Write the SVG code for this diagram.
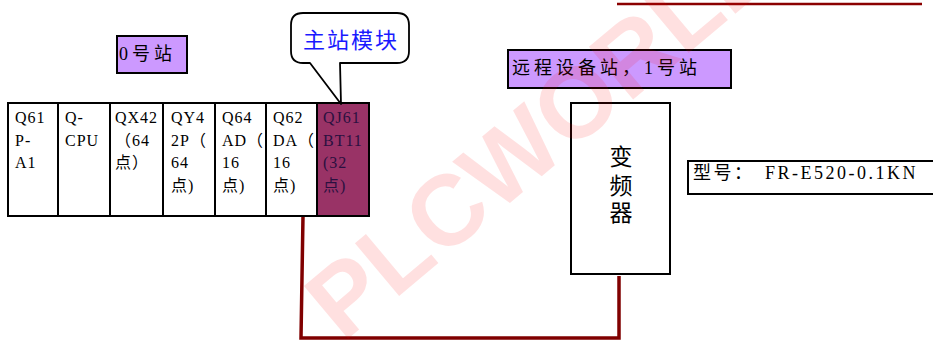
<svg xmlns="http://www.w3.org/2000/svg" width="933" height="340" viewBox="0 0 933 340">
<style>
.mod{fill:#ffffff;stroke:#000;stroke-width:2}
.mt{font-family:"Liberation Serif","Noto Sans CJK SC",serif;font-size:16px;letter-spacing:1px;fill:#000}
.lbl{fill:#cc99ff;stroke:#000;stroke-width:2}
.cjk{font-family:"Liberation Serif","Noto Sans CJK SC",serif;fill:#000}
.wire{fill:none;stroke:#800000;stroke-width:3.5}
</style>
<rect width="933" height="340" fill="#ffffff"/>
<g id="top-line"><path d="M617 4 L922 4" stroke="#8b0000" stroke-width="2.5"/></g>
<g id="connectors">
<path class="wire" d="M303 216 L301 338 L619 338 L619 276"/>
</g>
<g id="module-rack">
<g id="m1"><rect class="mod" x="8" y="103" width="50" height="113"/>
<text class="mt"><tspan x="15" y="123">Q61</tspan><tspan x="15" y="145.5">P-</tspan><tspan x="15" y="168">A1</tspan></text></g>
<g id="m2"><rect class="mod" x="58" y="103" width="52" height="113"/>
<text class="mt"><tspan x="65" y="123">Q-</tspan><tspan x="65" y="145.5">CPU</tspan></text></g>
<g id="m3"><rect class="mod" x="110" y="103" width="53" height="113"/>
<text class="mt"><tspan x="115" y="123">QX42</tspan><tspan x="115" y="145.5">（64</tspan><tspan x="115" y="168">点）</tspan></text></g>
<g id="m4"><rect class="mod" x="163" y="103" width="52" height="113"/>
<text class="mt"><tspan x="171" y="123">QY4</tspan><tspan x="171" y="145.5">2P（</tspan><tspan x="171" y="168">64</tspan><tspan x="171" y="190.5">点)</tspan></text></g>
<g id="m5"><rect class="mod" x="215" y="103" width="51" height="113"/>
<text class="mt"><tspan x="222" y="123">Q64</tspan><tspan x="222" y="145.5">AD（</tspan><tspan x="222" y="168">16</tspan><tspan x="222" y="190.5">点)</tspan></text></g>
<g id="m6"><rect class="mod" x="266" y="103" width="51" height="113"/>
<text class="mt"><tspan x="273" y="123">Q62</tspan><tspan x="273" y="145.5">DA（</tspan><tspan x="273" y="168">16</tspan><tspan x="273" y="190.5">点)</tspan></text></g>
<g id="m7"><rect x="317" y="103" width="52" height="113" fill="#993366" stroke="#000" stroke-width="2"/>
<text class="mt" style="fill:#2b1040"><tspan x="323" y="123">QJ61</tspan><tspan x="323" y="145.5">BT11</tspan><tspan x="323" y="168">(32</tspan><tspan x="323" y="190.5">点)</tspan></text></g>
</g>
<g id="callout">
<path d="M310 63 L341 104 L340 63 L397 63 Q409 63 409 51 L409 25 Q409 13 397 13 L303 13 Q291 13 291 25 L291 51 Q291 63 303 63 Z" fill="#ffffff" stroke="#000" stroke-width="1.8" stroke-linejoin="round"/>
<text class="cjk" x="303" y="48" style="font-size:22px;letter-spacing:2px;fill:#1a1aff">主站模块</text>
</g>
<g id="station0">
<rect class="lbl" x="117" y="36" width="70" height="37"/>
<text class="cjk" x="119" y="60" style="font-size:18px;letter-spacing:4px">0号站</text>
</g>
<g id="station1">
<rect class="lbl" x="508" y="50" width="223" height="38"/>
<text class="cjk" x="512" y="74" style="font-size:18px;letter-spacing:4px">远程设备站，1号站</text>
</g>
<g id="inverter">
<rect x="571" y="103" width="99" height="171" fill="#ffffff" stroke="#000" stroke-width="2"/>
<text class="cjk" text-anchor="middle" style="font-size:23px"><tspan x="621" y="165">变</tspan><tspan x="621" y="194">频</tspan><tspan x="621" y="221">器</tspan></text>
</g>
<g id="model">
<rect x="688" y="161" width="260" height="33" fill="#ffffff" stroke="#000" stroke-width="2"/>
<text class="cjk" y="179" style="font-size:18px;letter-spacing:2.5px"><tspan x="693">型号：</tspan><tspan x="765">FR-E520-0.1KN</tspan></text>
</g>
<g id="watermark">
<text x="343" y="343" transform="rotate(-40 343 343)" style="font-family:'Liberation Sans',Arial,sans-serif;font-weight:bold;font-size:100px;fill:#ff0000;fill-opacity:0.12">PLCWORLD</text>
</g>
</svg>
